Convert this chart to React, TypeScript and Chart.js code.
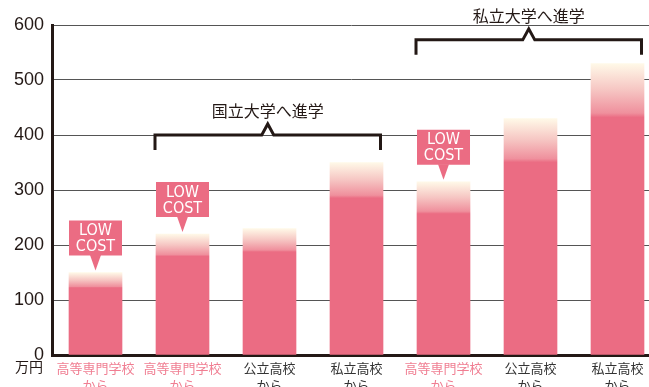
import { useEffect, useRef } from 'react';
import { Chart, registerables } from 'chart.js';

Chart.register(...registerables);

// ---- data ----
const categories = ['高等専門学校', '高等専門学校', '公立高校', '私立高校', '高等専門学校', '公立高校', '私立高校'];
const subLabel = 'から';
const values = [150, 220, 230, 350, 315, 430, 530];
const yTicks = [0, 100, 200, 300, 400, 500, 600];
const lowCostIdx = [0, 1, 4];
const pinkLabelIdx = [0, 1, 4];
const calloutLines = ['LOW', 'COST'];
const groupLabels = ['国立大学へ進学', '私立大学へ進学'];
const groupFrom = [1, 4];
const groupTo = [3, 6];
const groupLevel = [400, 573];
const unitLabel = '万円';

// ---- styles ----
const PINK = '#EB6C83';
const LABEL_PINK = '#F07E92';
const DARK = '#231815';
const BAR_W = 53;

const overlay = {
  id: 'overlay',
  afterDraw(chart: any) {
    const { ctx } = chart;
    const x = chart.scales.x;
    const y = chart.scales.y;
    ctx.save();
    // unit label
    ctx.fillStyle = DARK;
    ctx.font = '14px "Noto Sans CJK JP"';
    ctx.textAlign = 'right';
    ctx.textBaseline = 'middle';
    ctx.fillText(unitLabel, 43, y.bottom + 12);

    // LOW COST callouts
    lowCostIdx.forEach((i) => {
      const cx = x.getPixelForValue(i);
      const top = y.getPixelForValue(values[i]);
      const bb = top - 17;
      const bt = bb - 35;
      ctx.fillStyle = PINK;
      ctx.fillRect(cx - BAR_W / 2, bt, BAR_W, 35);
      ctx.beginPath();
      ctx.moveTo(cx - 5.5, bb - 0.5);
      ctx.lineTo(cx + 5.5, bb - 0.5);
      ctx.lineTo(cx, top - 2);
      ctx.closePath();
      ctx.fill();
      ctx.fillStyle = '#ffffff';
      ctx.font = '16px "DejaVu Sans Condensed"';
      ctx.textAlign = 'center';
      ctx.textBaseline = 'middle';
      ctx.fillText(calloutLines[0], cx, bt + 10.5);
      ctx.fillText(calloutLines[1], cx, bt + 26.5);
    });

    // brackets
    groupLabels.forEach((label, g) => {
      const l = x.getPixelForValue(groupFrom[g]) - BAR_W / 2 - 1;
      const r = x.getPixelForValue(groupTo[g]) + BAR_W / 2 - 2.5;
      const yy = y.getPixelForValue(groupLevel[g]);
      const cx = (l + r) / 2;
      ctx.strokeStyle = DARK;
      ctx.lineWidth = 3;
      ctx.lineJoin = 'miter';
      ctx.beginPath();
      ctx.moveTo(l, yy + 15);
      ctx.lineTo(l, yy);
      ctx.lineTo(cx - 6, yy);
      ctx.lineTo(cx, yy - 11);
      ctx.lineTo(cx + 6, yy);
      ctx.lineTo(r, yy);
      ctx.lineTo(r, yy + 15);
      ctx.stroke();
      ctx.fillStyle = DARK;
      ctx.font = '16px "Noto Sans CJK JP"';
      ctx.textAlign = 'center';
      ctx.textBaseline = 'middle';
      ctx.fillText(label, cx, yy - 24);
    });
    ctx.restore();
  },
};

function barColor(c: any) {
  const chart = c.chart;
  const y = chart.scales && chart.scales.y;
  if (!y || !chart.chartArea || !c.parsed) return PINK;
  const top = y.getPixelForValue(c.parsed.y);
  const base = y.getPixelForValue(0);
  if (!isFinite(top) || !isFinite(base) || base - top < 1) return PINK;
  const g = chart.ctx.createLinearGradient(0, top, 0, base);
  g.addColorStop(0, '#FFF9E8');
  g.addColorStop(0.09, '#F6C6C3');
  g.addColorStop(0.17, '#EF909D');
  g.addColorStop(0.185, PINK);
  g.addColorStop(1, PINK);
  return g;
}

export default function App() {
  const ref = useRef<HTMLCanvasElement | null>(null);
  useEffect(() => {
    if (!ref.current) return;
    const chart = new Chart(ref.current, {
      type: 'bar',
      data: {
        datasets: [
          {
            data: values.map((v, i) => ({ x: i, y: v })),
            backgroundColor: barColor,
            borderWidth: 0,
            barThickness: BAR_W,
          },
        ],
      },
      options: {
        animation: false,
        responsive: false,
        devicePixelRatio: 1,
        layout: { padding: { top: 25, left: 0, right: 0, bottom: 0 } },
        plugins: { legend: { display: false }, tooltip: { enabled: false } },
        scales: {
          x: {
            type: 'linear',
            min: -0.5,
            max: 6.362,
            bounds: 'data',
            offset: false,
            grid: { display: false, drawTicks: false },
            border: { display: true, width: 3, color: DARK },
            afterBuildTicks: (scale: any) => {
              scale.ticks = categories.map((_, i) => ({ value: i }));
            },
            afterFit: (scale: any) => {
              scale.height = 32;
            },
            ticks: {
              autoSkip: false,
              maxRotation: 0,
              minRotation: 0,
              padding: 5,
              font: { family: '"Noto Sans CJK JP"', size: 13, lineHeight: 1.3 },
              color: (c: any) => (pinkLabelIdx.includes(c.index) ? LABEL_PINK : '#333333'),
              callback: (v: any) => {
                const i = Math.round(Number(v));
                return categories[i] ? [categories[i], subLabel] : '';
              },
            },
          },
          y: {
            min: 0,
            max: 600,
            afterBuildTicks: (scale: any) => {
              scale.ticks = yTicks.map((v) => ({ value: v }));
            },
            afterFit: (scale: any) => {
              scale.width = 52;
            },
            grid: { color: '#555555', lineWidth: 1, drawTicks: false },
            border: { display: true, width: 3, color: DARK },
            ticks: {
              padding: 8,
              color: DARK,
              font: { family: '"Liberation Sans"', size: 18 },
            },
          },
        },
      },
      plugins: [overlay],
    } as any);
    return () => chart.destroy();
  }, []);
  return (
    <div style={{ position: 'fixed', left: 0, top: 0, width: 649, height: 387, background: '#fff' }}>
      <canvas ref={ref} width={649} height={387} style={{ display: 'block' }} />
    </div>
  );
}
